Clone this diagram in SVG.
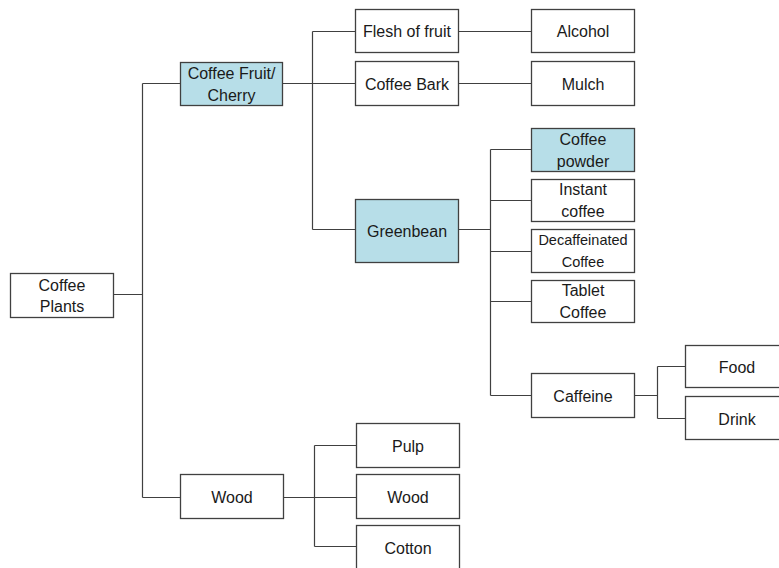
<svg xmlns="http://www.w3.org/2000/svg" width="779" height="568" viewBox="0 0 779 568">
<style>
.b{fill:#ffffff;stroke:#404040;stroke-width:1.3}
.h{fill:#b7dee8;stroke:#404040;stroke-width:1.3}
.t{font-family:"Liberation Sans",Arial,sans-serif;font-size:16px;fill:#1a1a1a;text-anchor:middle}
.s{font-size:14.5px}
#connectors path{fill:none;stroke:#404040;stroke-width:1.2}
</style>
<rect width="779" height="568" fill="#ffffff"/>
<g id="connectors">
<path d="M113,294.5H142.5M142.5,83.5V497.5M142.5,83.5H180M142.5,497.5H180"/>
<path d="M282,83.5H355M312.5,31.5V229.5M312.5,31.5H355M312.5,229.5H355"/>
<path d="M458,31.5H531M458,83.5H531"/>
<path d="M458,229.5H490.5M490.5,149.5V395.5M490.5,149.5H531M490.5,200.5H531M490.5,251.5H531M490.5,301.5H531M490.5,395.5H531"/>
<path d="M634,395.5H657.5M657.5,366.5V418.5M657.5,366.5H685M657.5,418.5H685"/>
<path d="M283,497.5H314.5M314.5,445.5V546.5M314.5,445.5H356M314.5,497.5H356M314.5,546.5H356"/>
</g>
<g id="plants"><rect class="b" x="10.5" y="273.5" width="103" height="44"/><text class="t" x="62" y="290.5">Coffee</text><text class="t" x="62" y="312">Plants</text></g>
<g id="fruit"><rect class="h" x="180.5" y="62.5" width="102" height="43"/><text class="t" x="231.5" y="78.5">Coffee Fruit/</text><text class="t" x="231.5" y="100.5">Cherry</text></g>
<g id="flesh"><rect class="b" x="355.5" y="9.5" width="103" height="43"/><text class="t" x="407" y="37">Flesh of fruit</text></g>
<g id="alcohol"><rect class="b" x="531.5" y="9.5" width="103" height="43"/><text class="t" x="583" y="37">Alcohol</text></g>
<g id="bark"><rect class="b" x="355.5" y="61.5" width="103" height="44"/><text class="t" x="407" y="89.5">Coffee Bark</text></g>
<g id="mulch"><rect class="b" x="531.5" y="61.5" width="103" height="44"/><text class="t" x="583" y="89.5">Mulch</text></g>
<g id="greenbean"><rect class="h" x="355.5" y="199.5" width="103" height="63"/><text class="t" x="407" y="236.5">Greenbean</text></g>
<g id="powder"><rect class="h" x="531.5" y="128.5" width="103" height="43"/><text class="t" x="583" y="144.5">Coffee</text><text class="t" x="583" y="166.5">powder</text></g>
<g id="instant"><rect class="b" x="531.5" y="179.5" width="103" height="42"/><text class="t" x="583" y="194.5">Instant</text><text class="t" x="583" y="216.5">coffee</text></g>
<g id="decaf"><rect class="b" x="531.5" y="229.5" width="103" height="43"/><text class="t s" x="583" y="245">Decaffeinated</text><text class="t s" x="583" y="266.5">Coffee</text></g>
<g id="tablet"><rect class="b" x="531.5" y="280.5" width="103" height="42"/><text class="t" x="583" y="295.5">Tablet</text><text class="t" x="583" y="317.5">Coffee</text></g>
<g id="caffeine"><rect class="b" x="531.5" y="373.5" width="103" height="44"/><text class="t" x="583" y="401.5">Caffeine</text></g>
<g id="food"><rect class="b" x="685.5" y="345.5" width="103" height="42"/><text class="t" x="737" y="372.5">Food</text></g>
<g id="drink"><rect class="b" x="685.5" y="396.5" width="103" height="43"/><text class="t" x="737" y="424.5">Drink</text></g>
<g id="wood"><rect class="b" x="180.5" y="474.5" width="103" height="44"/><text class="t" x="232" y="502.5">Wood</text></g>
<g id="pulp"><rect class="b" x="356.5" y="423.5" width="103" height="44"/><text class="t" x="408" y="451.5">Pulp</text></g>
<g id="wood2"><rect class="b" x="356.5" y="474.5" width="103" height="44"/><text class="t" x="408" y="502.5">Wood</text></g>
<g id="cotton"><rect class="b" x="356.5" y="525.5" width="103" height="44"/><text class="t" x="408" y="553.5">Cotton</text></g>
</svg>
